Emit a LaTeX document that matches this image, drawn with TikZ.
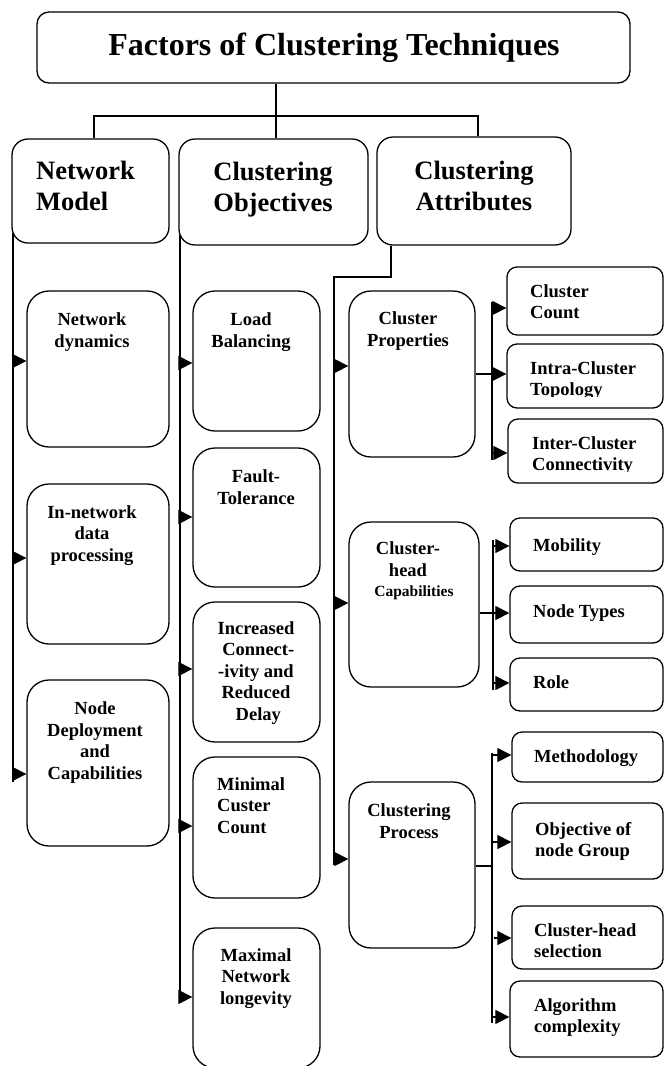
\documentclass[tikz,border=0pt]{standalone}
\usepackage{fontspec}
\setmainfont{Liberation Serif}
\usetikzlibrary{arrows.meta,fit}
\tikzset{
  box/.style={draw, line width=1.3pt, inner sep=0pt},
  conn/.style={line width=1.2pt},
  arr/.style={conn, -{Triangle[length=14pt,width=14pt]}},
  ttl/.style={font=\fontsize{32}{38}\selectfont\bfseries, anchor=base, inner sep=0pt},
  big/.style={font=\fontsize{26.5}{31}\selectfont\bfseries, anchor=base, inner sep=0pt},
  sm/.style={font=\fontsize{18.5}{21.5}\selectfont\bfseries, anchor=base, inner sep=0pt},
  smr/.style={font=\fontsize{18.5}{21}\selectfont\bfseries, anchor=base west, inner sep=0pt, align=left},
}
\begin{document}
\begin{tikzpicture}[x=1pt,y=-1pt]
\useasboundingbox (0,0) rectangle (664,1066);
% title
\node[box, rounded corners=12pt, fit={(37,12) (630,83)}] (title) {};
\node[ttl] (ttitle) at (334,55) {Factors of Clustering Techniques};
% headings (text nodes are placed by the baseline of their last line)
\node[box, rounded corners=16pt, fit={(12,139) (169,243)}] (nm) {};
\node[big, align=left, anchor=base west] (tnm) at (36,210) {Network\\Model};
\node[box, rounded corners=16pt, fit={(179,139) (368,245)}] (co) {};
\node[big, align=center] (tco) at (273,211) {Clustering\\Objectives};
\node[box, rounded corners=16pt, fit={(377,137) (571,245)}] (ca) {};
\node[big, align=center] (tca) at (474,210) {Clustering\\Attributes};
% top connectors
\coordinate (j) at (276,116);
\draw[conn] (title.south -| j) -- (j);
\draw[conn] (nm.north -| 94,0) |- (478,116) -- (ca.north -| 478,0);
\draw[conn] (j) -- (co.north -| j);
% left column
\node[box, rounded corners=22pt, fit={(27,291) (169,447)}] (nd) {};
\node[sm, align=center] (tnd) at (92,347) {Network\\dynamics};
\node[box, rounded corners=22pt, fit={(27,484) (169,644)}] (ind) {};
\node[sm, align=center] (tind) at (92,561) {In-network\\data\\processing};
\node[box, rounded corners=22pt, fit={(27,680) (169,846)}] (ndc) {};
\node[sm, align=center] (tndc) at (95,779) {Node\\Deployment\\and\\Capabilities};
\coordinate (L0) at (13,233);
\coordinate (L1) at (13,782);
\draw[conn] (L0) -- (L1);
\draw[arr] (13,361) -- (nd.west |- 0,361);
\draw[arr] (13,558) -- (ind.west |- 0,558);
\draw[arr] (13,774) -- (ndc.west |- 0,774);
% middle column
\node[box, rounded corners=22pt, fit={(193,291) (320,431)}] (lb) {};
\node[sm, align=center] (tlb) at (251,347) {Load\\Balancing};
\node[box, rounded corners=22pt, fit={(193,448) (320,587)}] (ft) {};
\node[sm, align=center] (tft) at (256,504) {Fault-\\Tolerance};
\node[box, rounded corners=22pt, fit={(193,602) (320,742)}] (icr) {};
\node[sm, align=center] (ticr) at (256,720) {Increased\\\ Connect-\\-ivity and\\Reduced\\\ Delay};
\node[box, rounded corners=22pt, fit={(193,757) (320,898)}] (mcc) {};
\node[sm, align=left, anchor=base west] (tmcc) at (217,833) {Minimal\\Custer\\Count};
\node[box, rounded corners=22pt, fit={(193,928) (320,1068)}] (mnl) {};
\node[sm, align=center] (tmnl) at (256,1004) {Maximal\\Network\\longevity};
\coordinate (M0) at (180,235);
\coordinate (M1) at (180,1003);
\draw[conn] (M0) -- (M1);
\draw[arr] (180,363) -- (lb.west |- 0,363);
\draw[arr] (180,517) -- (ft.west |- 0,517);
\draw[arr] (180,669) -- (icr.west |- 0,669);
\draw[arr] (180,826) -- (mcc.west |- 0,826);
\draw[arr] (180,997) -- (mnl.west |- 0,997);
% attributes column
\node[box, rounded corners=22pt, fit={(349,291) (475,457)}] (cp) {};
\node[sm, align=center] (tcp) at (408,346) {Cluster\\Properties};
\node[box, rounded corners=22pt, fit={(349,522) (479,687)}] (chc) {};
\node[sm, align=center] (tchc) at (408,576) {Cluster-\\head};
\node[font=\fontsize{15.5}{18}\selectfont\bfseries, anchor=base, inner sep=0pt] (tchc2) at (414,596) {Capabilities};
\node[box, rounded corners=22pt, fit={(349,782) (475,948)}] (clp) {};
\node[sm, align=center] (tclp) at (409,838) {Clustering\\Process};
\coordinate (A0) at (334,277);
\coordinate (A1) at (334,865);
\draw[conn] (ca.south -| 391,0) -- (391,277) -- (A0) -- (A1);
\draw[arr] (334,366) -- (cp.west |- 0,366);
\draw[arr] (334,603) -- (chc.west |- 0,603);
\draw[arr] (334,859) -- (clp.west |- 0,859);
% cluster properties children
\node[box, rounded corners=10pt, fit={(507,267) (663,335)}] (cc) {};
\node[smr] (tcc) at (530,318) {Cluster\\Count};
\node[box, rounded corners=10pt, fit={(507,344) (663,408)}] (ict) {};
\begin{scope}
\clip (507,344) rectangle (663,396);
\node[smr] (tict) at (530,395) {Intra-Cluster\\Topology};
\end{scope}
\node[box, rounded corners=10pt, fit={(508,419) (663,483)}] (icc) {};
\begin{scope}
\clip (508,419) rectangle (663,471);
\node[smr] (ticc) at (532,470) {Inter-Cluster\\Connectivity};
\end{scope}
\draw[conn] (cp.east |- 0,374) -- (492,374);
\draw[conn] (492,302) -- (492,460);
\draw[arr] (492,308) -- (cc.west |- 0,308);
\draw[arr] (492,374) -- (ict.west |- 0,374);
\draw[arr] (492,453) -- (icc.west |- 0,453);
% cluster-head children
\node[box, rounded corners=10pt, fit={(510,518) (663,571)}] (mob) {};
\node[smr] (tmob) at (533,551) {Mobility};
\node[box, rounded corners=10pt, fit={(510,586) (663,643)}] (nt) {};
\node[smr] (tnt) at (533,617) {Node Types};
\node[box, rounded corners=10pt, fit={(510,658) (663,711)}] (role) {};
\node[smr] (trole) at (533,688) {Role};
\draw[conn] (chc.east |- 0,613) -- (493,613);
\draw[conn] (493,540) -- (493,690);
\draw[arr] (493,546) -- (mob.west |- 0,546);
\draw[arr] (493,613) -- (nt.west |- 0,613);
\draw[arr] (493,683) -- (role.west |- 0,683);
% clustering process children
\node[box, rounded corners=10pt, fit={(512,732) (663,782)}] (meth) {};
\node[smr] (tmeth) at (534,762) {Methodology};
\node[box, rounded corners=10pt, fit={(512,803) (663,879)}] (obj) {};
\node[smr] (tobj) at (535,856) {Objective of\\node Group};
\node[box, rounded corners=10pt, fit={(512,906) (663,969)}] (chs) {};
\node[smr] (tchs) at (534,957) {Cluster-head\\selection};
\node[box, rounded corners=10pt, fit={(510,981) (663,1057)}] (alg) {};
\node[smr] (talg) at (534,1032) {Algorithm\\complexity};
\draw[conn] (clp.east |- 0,866) -- (492,866);
\draw[conn] (492,753) -- (492,1023);
\draw[arr] (492,755) -- (meth.west |- 0,755);
\draw[arr] (492,842) -- (obj.west |- 0,842);
\draw[arr] (494,938) -- (chs.west |- 0,938);
\draw[arr] (492,1017) -- (alg.west |- 0,1017);
\end{tikzpicture}
\end{document}
